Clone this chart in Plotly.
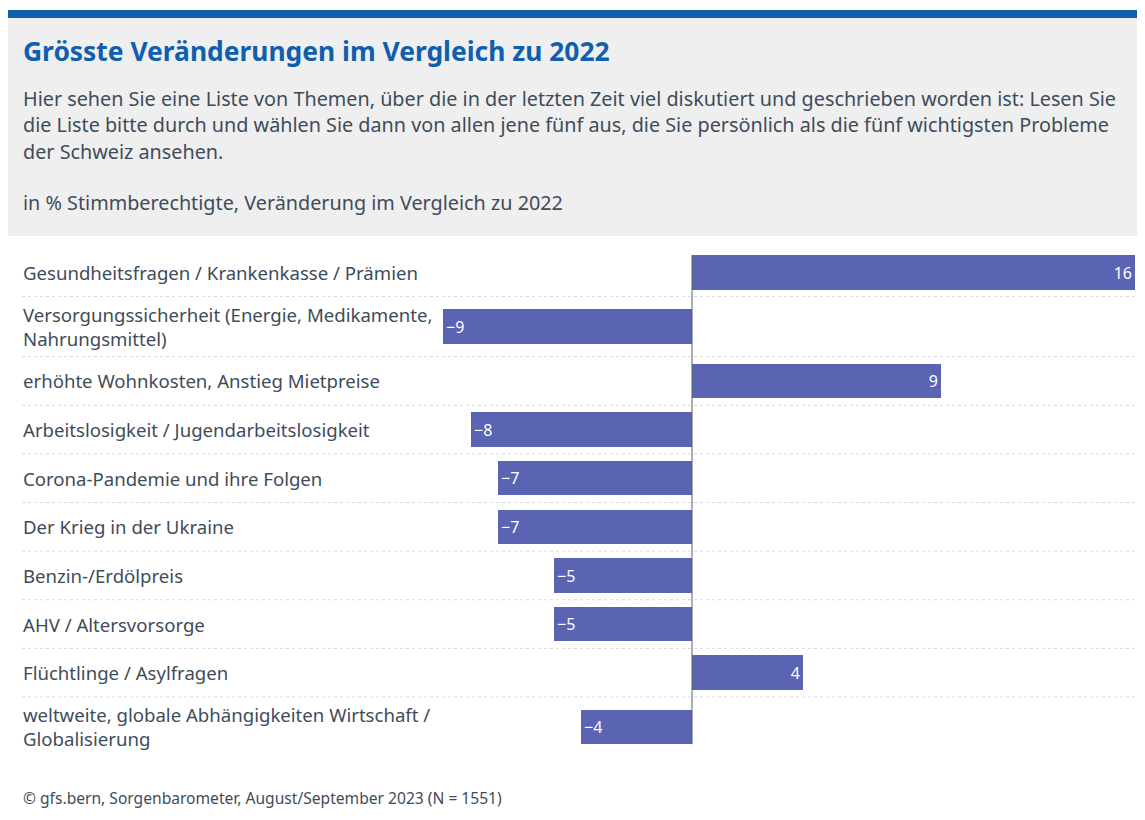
import plotly.graph_objects as go

# ---- data ----
categories = [
    "Gesundheitsfragen / Krankenkasse / Prämien",
    "Versorgungssicherheit (Energie, Medikamente,<br>Nahrungsmittel)",
    "erhöhte Wohnkosten, Anstieg Mietpreise",
    "Arbeitslosigkeit / Jugendarbeitslosigkeit",
    "Corona-Pandemie und ihre Folgen",
    "Der Krieg in der Ukraine",
    "Benzin-/Erdölpreis",
    "AHV / Altersvorsorge",
    "Flüchtlinge / Asylfragen",
    "weltweite, globale Abhängigkeiten Wirtschaft /<br>Globalisierung",
]
values = [16, -9, 9, -8, -7, -7, -5, -5, 4, -4]

title = "Grösste Veränderungen im Vergleich zu 2022"
subtitle_lines = [
    "Hier sehen Sie eine Liste von Themen, über die in der letzten Zeit viel diskutiert und geschrieben worden ist: Lesen Sie",
    "die Liste bitte durch und wählen Sie dann von allen jene fünf aus, die Sie persönlich als die fünf wichtigsten Probleme",
    "der Schweiz ansehen.",
]
unit_note = "in % Stimmberechtigte, Veränderung im Vergleich zu 2022"
source = "© gfs.bern, Sorgenbarometer, August/September 2023 (N = 1551)"

# ---- layout constants (figure pixels; page adds 8px body margin) ----
OFF = 8
W, H = 1129, 808
PLOT_TOP, PLOT_BOTTOM = 248 - OFF, 757 - OFF
ZERO_PX, MAX_PX, MAX_VAL = 692 - OFF, 1135 - OFF, 16
FONT = "'Noto Sans', 'Open Sans', sans-serif"
TEXT_COL = "#3e4c5a"
BLUE = "#0f5fae"
BAR_COL = "#5a64b3"

k = (MAX_PX - ZERO_PX) / MAX_VAL
x_range = [-ZERO_PX / k, (W - ZERO_PX) / k]

# row heights from label line count
SINGLE, EXTRA = 48.6, 11.4
heights = [SINGLE + EXTRA * (c.count("<br>")) for c in categories]
bounds = [0]
for h in heights:
    bounds.append(bounds[-1] + h)
centers = [(bounds[i] + bounds[i + 1]) / 2 for i in range(len(heights))]
total = bounds[-1]
BAR_W = 34.5


def py(p):
    """reference-page pixel y -> paper coordinate"""
    return (PLOT_BOTTOM - (p - OFF)) / (PLOT_BOTTOM - PLOT_TOP)


def px(p):
    """reference-page pixel x -> paper coordinate"""
    return (p - OFF) / W


def fmt(v):
    return ("\u2212" + str(abs(v))) if v < 0 else str(v)


fig = go.Figure(
    go.Bar(
        y=centers,
        x=values,
        orientation="h",
        width=BAR_W,
        marker=dict(color=BAR_COL, line=dict(width=0)),
        text=[fmt(v) for v in values],
        textposition="inside",
        insidetextanchor="end",
        textangle=0,
        textfont=dict(family=FONT, size=16, color="white"),
        hoverinfo="skip",
        cliponaxis=False,
    )
)

shapes = [
    dict(type="rect", xref="paper", yref="paper", x0=0, x1=1, y0=py(18), y1=py(10),
         fillcolor=BLUE, line=dict(width=0), layer="below"),
    dict(type="rect", xref="paper", yref="paper", x0=0, x1=1, y0=py(236), y1=py(18),
         fillcolor="#efefef", line=dict(width=0), layer="below"),
]
for b in bounds[1:-1]:
    shapes.append(dict(type="line", xref="paper", yref="y", x0=px(22), x1=1, y0=b, y1=b,
                       line=dict(color="#d9d9d9", width=1, dash="dot"), layer="below"))
shapes.append(dict(type="line", xref="x", yref="y", x0=0, x1=0,
                   y0=centers[0] - BAR_W / 2, y1=centers[-1] + BAR_W / 2,
                   line=dict(color="#555f69", width=1)))

annotations = [
    dict(text="<b>" + title + "</b>", xref="paper", yref="paper", x=px(21), y=py(51),
         xanchor="left", yanchor="middle", showarrow=False,
         font=dict(family=FONT, size=26.4, color=BLUE)),
]
for i, line in enumerate(subtitle_lines):
    annotations.append(dict(text=line, xref="paper", yref="paper", x=px(21), y=py(98 + 26.5 * i),
                            xanchor="left", yanchor="middle", showarrow=False,
                            font=dict(family=FONT, size=19.8, color=TEXT_COL)))
annotations.append(dict(text=unit_note, xref="paper", yref="paper", x=px(21), y=py(202),
                        xanchor="left", yanchor="middle", showarrow=False,
                        font=dict(family=FONT, size=19.8, color=TEXT_COL)))
annotations.append(dict(text=source, xref="paper", yref="paper", x=px(21), y=py(798),
                        xanchor="left", yanchor="middle", showarrow=False,
                        font=dict(family=FONT, size=15.6, color=TEXT_COL)))
for c, yc in zip(categories, centers):
    annotations.append(dict(text=c, xref="paper", yref="y", x=px(21), y=yc,
                            xanchor="left", yanchor="middle", align="left", showarrow=False,
                            font=dict(family=FONT, size=18.6, color=TEXT_COL)))

fig.update_layout(
    width=W, height=H,
    margin=dict(l=0, r=0, t=PLOT_TOP, b=H - PLOT_BOTTOM, pad=0),
    paper_bgcolor="white", plot_bgcolor="rgba(0,0,0,0)",
    xaxis=dict(range=x_range, visible=False, fixedrange=True),
    yaxis=dict(range=[total, 0], visible=False, fixedrange=True),
    shapes=shapes, annotations=annotations,
    showlegend=False, bargap=0,
    uniformtext=dict(minsize=8, mode="show"),
)

fig.write_html("out.html")
